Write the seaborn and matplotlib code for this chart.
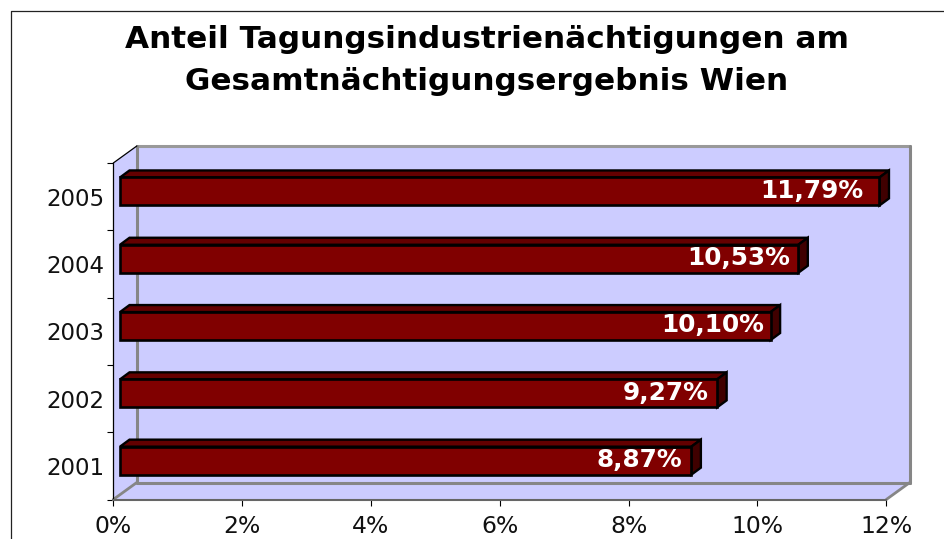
import matplotlib
matplotlib.use("Agg")
import matplotlib.pyplot as plt
import seaborn as sns
import pandas as pd
from matplotlib.patches import Polygon
from matplotlib.lines import Line2D
from matplotlib.transforms import Affine2D, IdentityTransform

# data
years = ["2005", "2004", "2003", "2002", "2001"]
shares = [11.79, 10.53, 10.10, 9.27, 8.87]
value_labels = ["11,79%", "10,53%", "10,10%", "9,27%", "8,87%"]
x_ticks = [0, 2, 4, 6, 8, 10, 12]
title = "Anteil Tagungsindustrienächtigungen am\nGesamtnächtigungsergebnis Wien"

# style
W, H = 944, 539
WALL, GREY = "#CCCCFF", "#868686"
FRONT, TOP, SIDE = "#800000", "#640000", "#400000"
WALL_DEPTH = (23.5, 17)   # px, floor/wall depth
BAR_SHIFT = (6.7, 5.2)    # px, bars stand inside the 3D box
BAR_DEPTH = (9.5, 7)      # px
label_gap = [16, 8, 6, 9, 9]  # px, label right edge to bar end

sns.set_theme(style="white")
plt.rcParams["font.family"] = ["DejaVu Sans"]

fig = plt.figure(figsize=(W / 100, H / 100), dpi=100, facecolor="white")
ax = fig.add_axes([113.3 / W, (H - 499.5) / H, 773 / W, 336.5 / H])
ax.patch.set_visible(False)

df = pd.DataFrame({"year": years, "share": shares})
sns.barplot(data=df, x="share", y="year", order=years, orient="h", color=FRONT,
            saturation=1, width=0.416, edgecolor="black", linewidth=1.9, ax=ax, zorder=5)
ax.set_xlim(0, 12)
ax.set_ylim(4.5, -0.5)
ax.set_xlabel("")
ax.set_ylabel("")

shift = ax.transData + Affine2D().translate(*BAR_SHIFT)
for bar in ax.patches:
    bar.set_transform(shift)
    bar.set_clip_on(False)


def pt(x, y, dx=0.0, dy=0.0):
    px, py = ax.transData.transform((x, y))
    return (px + dx, py + dy)


def poly(points, face, edge="none", lw=0.0, z=1):
    ax.add_patch(Polygon(points, closed=True, facecolor=face, edgecolor=edge, linewidth=lw,
                         transform=IdentityTransform(), clip_on=False, zorder=z, joinstyle="miter"))


def line(a, b, color, lw, z=2):
    ax.add_line(Line2D([a[0], b[0]], [a[1], b[1]], color=color, linewidth=lw,
                       transform=IdentityTransform(), clip_on=False, zorder=z))


# 3D box
wx, wy = WALL_DEPTH
x0, x1, y0, y1 = 0, 12, 4.5, -0.5
poly([pt(x0, y0), pt(x0, y1), pt(x0, y1, wx, wy), pt(x1, y1, wx, wy),
      pt(x1, y0, wx, wy), pt(x1, y0)], WALL)
line(pt(x0, y1, wx, wy), pt(x1, y1, wx, wy), "#999999", 2.2)
line(pt(x1, y1, wx, wy), pt(x1, y0, wx, wy), GREY, 2.2)
line(pt(x0, y0, wx, wy), pt(x1, y0, wx, wy), GREY, 2.2)
line(pt(x0, y1, wx, wy), pt(x0, y0, wx, wy), GREY, 2.2)
line(pt(x0, y0), pt(x0, y0, wx, wy), GREY, 2.0)
line(pt(x1, y0), pt(x1, y0, wx, wy), GREY, 2.0)
line(pt(x0, y1), pt(x0, y1, wx, wy), "black", 0.9)

# bar top and side faces, labels
sx, sy = BAR_SHIFT
bx, by = BAR_DEPTH
half = 0.416 / 2
for i, (v, lab, gap) in enumerate(zip(shares, value_labels, label_gap)):
    a = pt(0, i - half, sx, sy)
    b = pt(v, i - half, sx, sy)
    c = pt(v, i + half, sx, sy)
    poly([a, b, (b[0] + bx, b[1] + by), (a[0] + bx, a[1] + by)], TOP, "black", 1.7, z=4)
    poly([b, c, (c[0] + bx, c[1] + by), (b[0] + bx, b[1] + by)], SIDE, "black", 1.7, z=4)
    ax.annotate(lab, xy=(v, i), xycoords="data", xytext=((sx - gap) * 0.72, 4.2),
                textcoords="offset points", ha="right", va="center", color="white",
                fontsize=17.8, fontweight="bold", zorder=7, annotation_clip=False)

# axes
for s in ("top", "right"):
    ax.spines[s].set_visible(False)
ax.spines["left"].set_color("black")
ax.spines["left"].set_linewidth(0.9)
ax.spines["bottom"].set_color("#666666")
ax.spines["bottom"].set_linewidth(1.5)
for sp in ax.spines.values():
    sp.set_zorder(3)

ax.set_xticks(x_ticks)
ax.set_xticklabels([f"{t}%" for t in x_ticks])
ax.set_yticks([-0.5, 0.5, 1.5, 2.5, 3.5, 4.5], minor=True)
ax.tick_params(axis="y", which="minor", left=True, length=4, width=0.8, color="black")
ax.tick_params(axis="y", which="major", left=False, length=0, pad=6.3, labelsize=16.5, labelcolor="#111111")
ax.tick_params(axis="x", which="major", bottom=True, length=4, width=0.8, color="black",
               pad=7, labelsize=16.9, labelcolor="#111111")

# page frame and title
fig.add_artist(Line2D([10.5 / W, 10.5 / W, 1], [0, 1 - 11 / H, 1 - 11 / H], color="#222222",
                      linewidth=0.9, transform=fig.transFigure))
fig.text(487 / W, 1 - 60.5 / H, title, ha="center", va="center", fontsize=22.4, fontweight="bold",
         color="black", linespacing=1.6)

fig.savefig("out.png", dpi=100)
